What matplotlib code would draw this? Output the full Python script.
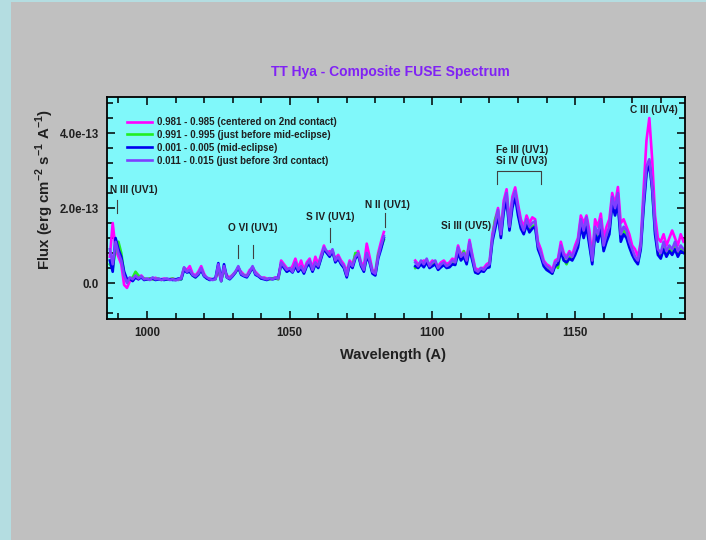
import numpy as np
import matplotlib
matplotlib.use("Agg")
import matplotlib.pyplot as plt
from matplotlib.patches import Rectangle
from matplotlib.ticker import MultipleLocator, FuncFormatter

plt.rcParams['font.family'] = ['Liberation Sans', 'DejaVu Sans']
plt.rcParams['mathtext.fontset'] = 'custom'
plt.rcParams['mathtext.rm'] = 'Liberation Sans:bold'
plt.rcParams['mathtext.bf'] = 'Liberation Sans:bold'

# wavelength sampling (A); detector gap between the two segments
wave_a = np.arange(987, 1084)
wave_b = np.arange(1094, 1189)

# flux in units of 1e-13 erg cm-2 s-1 A-1
# short-wavelength segment, 987-1083 A
flux_a_981 = [0.7, 1.6, 0.9, 0.7, 0.5, -0.05, -0.13, 0.05, 0.1, 0.15,
              0.1, 0.2, 0.12, 0.1, 0.12, 0.1, 0.14, 0.1, 0.1, 0.12,
              0.1, 0.1, 0.12, 0.1, 0.08, 0.15, 0.4, 0.35, 0.45, 0.25,
              0.2, 0.3, 0.45, 0.25, 0.12, 0.12, 0.1, 0.12, 0.3, 0.08,
              0.35, 0.2, 0.15, 0.22, 0.3, 0.4, 0.3, 0.22, 0.2, 0.35,
              0.4, 0.3, 0.22, 0.12, 0.15, 0.12, 0.1, 0.12, 0.15, 0.1,
              0.6, 0.5, 0.4, 0.35, 0.45, 0.65, 0.4, 0.6, 0.35, 0.55,
              0.65, 0.4, 0.7, 0.5, 0.75, 1.0, 0.8, 0.85, 0.8, 0.65,
              0.75, 0.6, 0.5, 0.3, 0.6, 0.5, 0.75, 0.85, 0.55, 0.45,
              1.05, 0.7, 0.35, 0.3, 0.8, 1.1, 1.36]
flux_a_991 = [0.5, 0.4, 0.9, 1.1, 0.8, 0.25, 0.05, 0.1, 0.15, 0.3,
              0.2, 0.15, 0.12, 0.1, 0.12, 0.1, 0.1, 0.12, 0.08, 0.1,
              0.1, 0.1, 0.12, 0.08, 0.1, 0.1, 0.4, 0.3, 0.3, 0.2,
              0.15, 0.25, 0.35, 0.2, 0.12, 0.1, 0.1, 0.1, 0.45, 0.05,
              0.4, 0.15, 0.12, 0.2, 0.28, 0.4, 0.25, 0.2, 0.18, 0.28,
              0.42, 0.25, 0.2, 0.12, 0.12, 0.1, 0.1, 0.12, 0.12, 0.1,
              0.5, 0.45, 0.3, 0.38, 0.3, 0.5, 0.32, 0.42, 0.28, 0.48,
              0.55, 0.32, 0.52, 0.42, 0.68, 0.9, 0.82, 0.72, 0.85, 0.58,
              0.68, 0.52, 0.42, 0.18, 0.52, 0.42, 0.8, 0.78, 0.48, 0.32,
              0.75, 0.58, 0.28, 0.22, 0.75, 0.95, 1.15]
flux_a_001 = [0.6, 0.3, 1.2, 0.9, 0.7, 0.3, 0.1, 0.12, 0.05, 0.15,
              0.1, 0.15, 0.08, 0.1, 0.1, 0.12, 0.08, 0.1, 0.1, 0.08,
              0.1, 0.1, 0.08, 0.09, 0.12, 0.1, 0.35, 0.28, 0.3, 0.2,
              0.15, 0.22, 0.35, 0.18, 0.12, 0.08, 0.1, 0.12, 0.53, 0.05,
              0.5, 0.15, 0.1, 0.18, 0.28, 0.42, 0.22, 0.18, 0.15, 0.28,
              0.42, 0.22, 0.18, 0.12, 0.1, 0.08, 0.12, 0.1, 0.12, 0.15,
              0.5, 0.4, 0.3, 0.35, 0.28, 0.45, 0.3, 0.4, 0.25, 0.45,
              0.5, 0.3, 0.5, 0.4, 0.65, 0.9, 0.8, 0.7, 0.85, 0.55,
              0.65, 0.5, 0.4, 0.15, 0.5, 0.4, 0.65, 0.75, 0.45, 0.3,
              0.7, 0.55, 0.25, 0.2, 0.65, 0.9, 1.2]
flux_a_011 = [0.9, 0.5, 1.1, 0.8, 0.6, 0.2, 0.0, 0.15, 0.1, 0.2,
              0.12, 0.18, 0.1, 0.12, 0.08, 0.15, 0.1, 0.12, 0.08, 0.1,
              0.12, 0.08, 0.1, 0.07, 0.1, 0.12, 0.42, 0.3, 0.35, 0.22,
              0.18, 0.25, 0.4, 0.2, 0.15, 0.1, 0.08, 0.1, 0.5, 0.05,
              0.45, 0.15, 0.12, 0.2, 0.3, 0.45, 0.25, 0.2, 0.18, 0.3,
              0.45, 0.25, 0.2, 0.15, 0.12, 0.1, 0.13, 0.1, 0.14, 0.12,
              0.55, 0.45, 0.35, 0.4, 0.3, 0.55, 0.35, 0.45, 0.3, 0.5,
              0.6, 0.35, 0.55, 0.45, 0.7, 0.95, 0.85, 0.75, 0.9, 0.6,
              0.7, 0.55, 0.45, 0.2, 0.55, 0.45, 0.7, 0.8, 0.5, 0.35,
              0.8, 0.6, 0.3, 0.25, 0.7, 1.0, 1.25]

# long-wavelength segment, 1094-1188 A
flux_b_981 = [0.6, 0.5, 0.55, 0.6, 0.55, 0.5, 0.6, 0.5, 0.45, 0.55,
              0.6, 0.5, 0.55, 0.65, 0.6, 1.0, 0.75, 0.85, 0.65, 1.15,
              0.75, 0.4, 0.35, 0.4, 0.4, 0.5, 0.55, 1.3, 1.7, 2.0,
              1.4, 2.2, 2.5, 1.6, 2.3, 2.55, 2.1, 1.7, 1.5, 1.8,
              1.6, 1.75, 1.7, 1.1, 0.9, 0.6, 0.5, 0.45, 0.35, 0.6,
              0.65, 1.1, 0.8, 0.7, 0.85, 0.75, 1.0, 1.2, 1.8, 1.6,
              1.8, 1.4, 0.7, 1.7, 1.5, 1.85, 1.2, 1.5, 1.7, 2.4,
              2.1, 2.56, 1.6, 1.7, 1.5, 1.3, 1.0, 0.9, 0.7, 1.1,
              2.5, 3.8, 4.4, 3.3, 1.8, 1.2, 1.1, 1.3, 1.0, 1.2,
              1.4, 1.2, 1.0, 1.3, 1.1]
flux_b_991 = [0.4, 0.45, 0.55, 0.45, 0.6, 0.42, 0.5, 0.55, 0.38, 0.45,
              0.5, 0.42, 0.45, 0.55, 0.5, 0.85, 0.65, 0.85, 0.55, 0.95,
              0.65, 0.3, 0.25, 0.35, 0.32, 0.42, 0.48, 1.15, 1.7, 1.9,
              1.25, 2.0, 2.3, 1.45, 2.1, 2.35, 1.9, 1.5, 1.35, 1.65,
              1.4, 1.5, 1.55, 0.95, 0.75, 0.5, 0.4, 0.35, 0.25, 0.5,
              0.4, 0.9, 0.65, 0.5, 0.7, 0.65, 0.8, 1.0, 1.6, 1.3,
              1.6, 1.1, 0.55, 1.4, 1.2, 1.55, 0.9, 1.2, 1.4, 2.2,
              1.9, 2.2, 1.2, 1.4, 1.3, 1.0, 0.8, 0.65, 0.55, 0.95,
              2.1, 3.0, 3.25, 2.5, 1.4, 0.8, 0.7, 0.95, 0.75, 0.9,
              0.8, 1.0, 0.75, 0.9, 0.85]
flux_b_001 = [0.45, 0.4, 0.5, 0.42, 0.55, 0.4, 0.45, 0.5, 0.35, 0.42,
              0.48, 0.4, 0.42, 0.5, 0.48, 0.8, 0.6, 0.7, 0.5, 0.9,
              0.6, 0.28, 0.25, 0.32, 0.3, 0.4, 0.42, 1.1, 1.45, 1.8,
              1.2, 1.9, 2.2, 1.4, 2.0, 2.3, 1.8, 1.45, 1.3, 1.55,
              1.35, 1.45, 1.5, 0.9, 0.7, 0.45, 0.35, 0.3, 0.25, 0.45,
              0.5, 0.85, 0.6, 0.55, 0.65, 0.6, 0.75, 0.95, 1.5, 1.2,
              1.5, 1.0, 0.5, 1.3, 1.1, 1.45, 0.85, 1.1, 1.3, 2.1,
              1.8, 2.1, 1.1, 1.3, 1.2, 0.95, 0.75, 0.6, 0.5, 0.9,
              2.0, 2.9, 3.2, 2.5, 1.3, 0.75, 0.65, 0.9, 0.7, 0.85,
              0.75, 0.9, 0.7, 0.85, 0.8]
flux_b_011 = [0.55, 0.45, 0.6, 0.5, 0.65, 0.45, 0.55, 0.6, 0.4, 0.5,
              0.55, 0.45, 0.5, 0.6, 0.55, 0.95, 0.7, 0.8, 0.6, 1.1,
              0.7, 0.35, 0.3, 0.4, 0.35, 0.45, 0.5, 1.2, 1.6, 1.95,
              1.3, 2.1, 2.4, 1.5, 2.2, 2.45, 2.0, 1.6, 1.4, 1.7,
              1.5, 1.6, 1.65, 1.0, 0.8, 0.55, 0.45, 0.4, 0.3, 0.55,
              0.6, 1.0, 0.75, 0.65, 0.8, 0.7, 0.9, 1.1, 1.7, 1.4,
              1.75, 1.2, 0.6, 1.5, 1.3, 1.7, 1.0, 1.3, 1.5, 2.3,
              2.0, 2.4, 1.3, 1.5, 1.4, 1.1, 0.9, 0.7, 0.6, 1.0,
              2.2, 3.1, 3.3, 2.6, 1.5, 0.9, 0.8, 1.1, 0.85, 1.0,
              0.9, 1.1, 0.85, 1.0, 0.9]

phases = ["0.981 - 0.985 (centered on 2nd contact)",
          "0.991 - 0.995 (just before mid-eclipse)",
          "0.001 - 0.005 (mid-eclipse)",
          "0.011 - 0.015 (just before 3rd contact)"]
colors = ["#ff00ff", "#22ee22", "#0000ee", "#7f3fff"]

SCALE = 1e-13
wave = np.concatenate([wave_a, [1088.5], wave_b])
spectra = []
for fa, fb in [(flux_a_981, flux_b_981), (flux_a_991, flux_b_991),
               (flux_a_001, flux_b_001), (flux_a_011, flux_b_011)]:
    spectra.append(np.concatenate([fa, [np.nan], fb]) * SCALE)

fig = plt.figure(figsize=(7.06, 5.4), dpi=100)
fig.patch.set_facecolor("#b4dde1")
fig.patches.append(Rectangle((11 / 706, 0), 1 - 11 / 706, 1 - 2 / 540,
                             transform=fig.transFigure, facecolor="#c0c0c0",
                             edgecolor="none", zorder=-10))

ax = fig.add_axes([107 / 706, 1 - 319 / 540, 578 / 706, 222 / 540])
ax.set_zorder(1)
ax.set_facecolor("#80f8fa")

for flux, col, lab in zip(spectra, colors, phases):
    ax.plot(wave, flux, color=col, lw=1.9, label=lab, solid_joinstyle="round")

ax.set_xlim(986, 1188.5)
ax.set_ylim(-0.96e-13, 4.96e-13)

ax.xaxis.set_major_locator(MultipleLocator(50))
ax.xaxis.set_minor_locator(MultipleLocator(10))
ax.yaxis.set_major_locator(MultipleLocator(2e-13))
ax.yaxis.set_minor_locator(MultipleLocator(0.4e-13))
ax.yaxis.set_major_formatter(FuncFormatter(
    lambda v, pos: "0.0" if abs(v) < 1e-16 else f"{v:.1e}"))
ax.tick_params(which="both", direction="in", top=True, right=True, width=1.1)
ax.tick_params(which="major", length=6, labelsize=8.3, pad=6)
ax.tick_params(which="minor", length=4)
for lab in ax.get_xticklabels() + ax.get_yticklabels():
    lab.set_fontweight("bold")
    lab.set_color("#202020")
for sp in ax.spines.values():
    sp.set_linewidth(1.3)

leg = ax.legend(loc="upper left", bbox_to_anchor=(0.035, 0.91), frameon=False,
                prop={"size": 7, "weight": "bold"}, handlelength=2.5,
                handletextpad=0.6, labelspacing=0.3, borderaxespad=0,
                borderpad=0)
for t in leg.get_texts():
    t.set_color("#202020")

# line identifications
ann = dict(fontsize=7.3, fontweight="bold", color="#202020",
           ha="center", va="center")
tick = dict(color="#404040", lw=0.8)
E = SCALE
ax.text(987.2, 2.48 * E, "N III (UV1)", **{**ann, "ha": "left"})
ax.plot([989.5, 989.5], [1.87 * E, 2.21 * E], **tick)
ax.text(1037.0, 1.47 * E, "O VI (UV1)", **ann)
ax.plot([1032.0, 1032.0], [0.67 * E, 1.01 * E], **tick)
ax.plot([1037.2, 1037.2], [0.67 * E, 1.01 * E], **tick)
ax.text(1064.3, 1.76 * E, "S IV (UV1)", **ann)
ax.plot([1064.0, 1064.0], [1.09 * E, 1.47 * E], **tick)
ax.text(1084.3, 2.08 * E, "N II (UV1)", **ann)
ax.plot([1083.3, 1083.3], [1.49 * E, 1.87 * E], **tick)
ax.text(1111.7, 1.52 * E, "Si III (UV5)", **ann)
ax.text(1131.4, 3.55 * E, "Fe III (UV1)", **ann)
ax.text(1131.4, 3.25 * E, "Si IV (UV3)", **ann)
ax.plot([1122.6, 1122.6, 1138.0, 1138.0],
        [2.64 * E, 2.99 * E, 2.99 * E, 2.64 * E], **tick)
ax.text(1177.5, 4.61 * E, "C III (UV4)", **ann)

fig.text(390 / 706, 1 - 72 / 540, "TT Hya - Composite FUSE Spectrum",
         ha="center", va="center", fontsize=10, fontweight="bold",
         color="#8022f5")
fig.text(393 / 706, 1 - 355 / 540, "Wavelength (A)", ha="center", va="center",
         fontsize=10.5, fontweight="bold", color="#202020")
fig.text(45 / 706, 1 - 190 / 540,
         r"Flux (erg cm$^{\mathrm{-2}}$ s$^{\mathrm{-1}}$ A$^{\mathrm{-1}}$)",
         rotation=90, ha="center", va="center", fontsize=10.8,
         fontweight="bold", color="#202020")

fig.savefig("out.png", dpi=100, facecolor=fig.get_facecolor())
